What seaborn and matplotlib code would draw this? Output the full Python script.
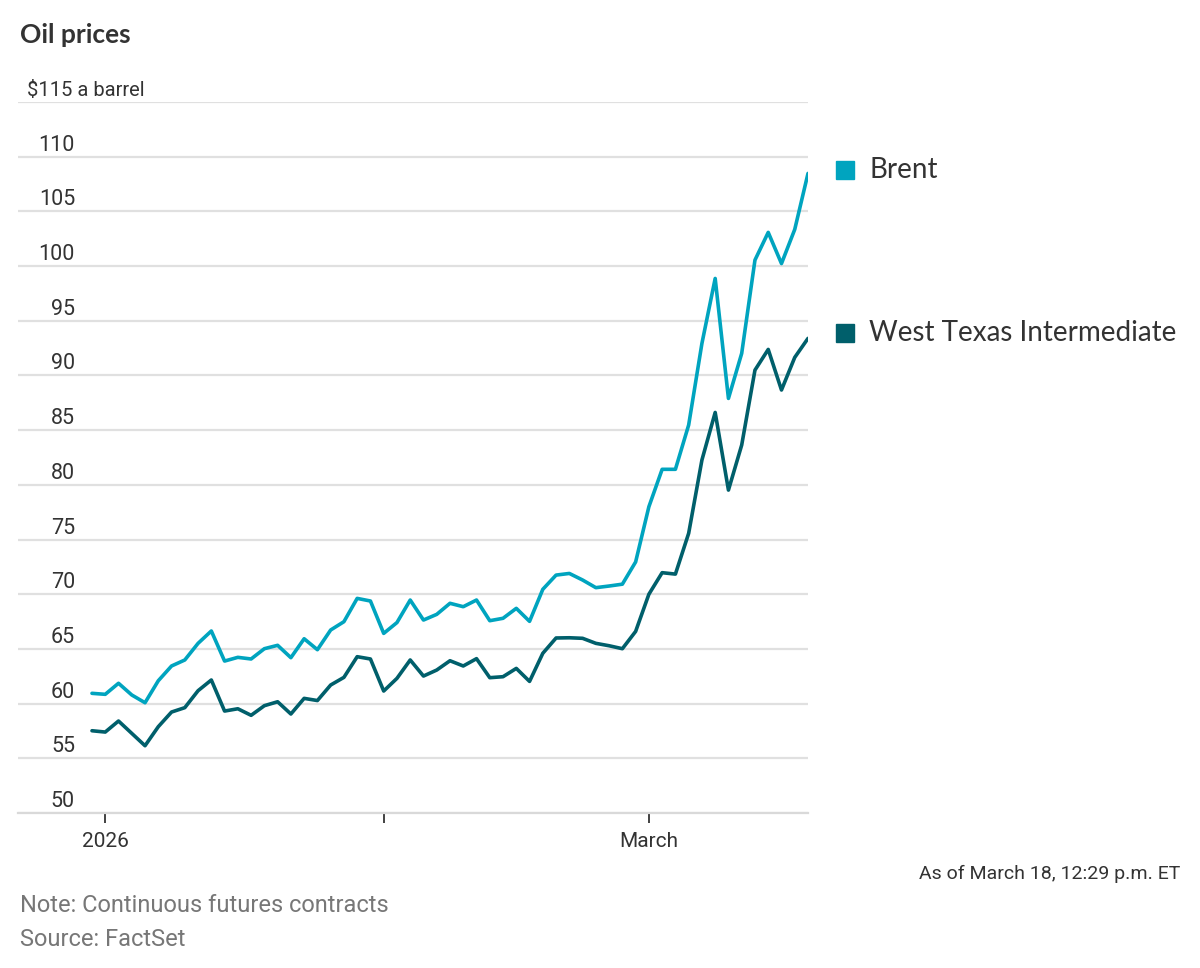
import pandas as pd
import matplotlib.pyplot as plt
import seaborn as sns
from matplotlib.patches import Rectangle
from matplotlib.transforms import blended_transform_factory

# Datos: precios de cierre por día de negociación (31 dic 2025 - 18 mar 2026)
dias = ["2025-12-31"] + [d.strftime("%Y-%m-%d") for d in pd.bdate_range("2026-01-02", "2026-03-18")]

brent = [60.94, 60.85, 61.86, 60.79, 60.08, 62.09, 63.44, 63.99, 65.51, 66.64,
         63.89, 64.23, 64.08, 65.02, 65.33, 64.20, 65.93, 64.93, 66.73, 67.49,
         69.62, 69.38, 66.42, 67.41, 69.47, 67.64, 68.16, 69.17, 68.86, 69.47,
         67.58, 67.80, 68.71, 67.52, 70.45, 71.75, 71.90, 71.30, 70.60, 70.75,
         70.92, 72.95, 78.00, 81.42, 81.42, 85.47, 92.93, 98.87, 87.90, 92.02,
         100.55, 103.08, 100.23, 103.35, 108.47]

wti = [57.52, 57.40, 58.41, 57.28, 56.15, 57.89, 59.23, 59.63, 61.18, 62.16,
       59.32, 59.53, 58.93, 59.81, 60.17, 59.05, 60.48, 60.28, 61.70, 62.40,
       64.29, 64.08, 61.15, 62.31, 63.99, 62.52, 63.07, 63.92, 63.44, 64.11,
       62.37, 62.46, 63.22, 62.03, 64.60, 66.00, 66.02, 65.97, 65.51, 65.29,
       65.02, 66.60, 70.00, 71.97, 71.84, 75.57, 82.27, 86.62, 79.52, 83.64,
       90.49, 92.38, 88.67, 91.65, 93.39]

series = ["Brent", "West Texas Intermediate"]
colores = {"Brent": "#00a4bf", "West Texas Intermediate": "#005f6b"}

etiquetas_y = list(range(50, 115, 5))
etiquetas_x = {"2026-01": "2026", "2026-02": "", "2026-03": "March"}

# Tabla larga para seaborn
df = pd.DataFrame({"dia": range(len(dias)), "fecha": dias,
                   "Brent": brent, "West Texas Intermediate": wti})
df_largo = df.melt(id_vars=["dia", "fecha"], value_vars=series,
                   var_name="serie", value_name="precio")

# Primer día de negociación de cada mes para las marcas del eje x
meses = df["fecha"].str[:7]
pos_ticks = [int(df.loc[meses == m, "dia"].iloc[0]) for m in etiquetas_x]

sns.set_style("white")
plt.rcParams["font.family"] = ["Roboto", "DejaVu Sans"]

fig = plt.figure(figsize=(12, 9.68), dpi=100)
W, H = 1200, 968
ax = fig.add_axes([18 / W, 1 - 813 / H, 790 / W, 711 / H])

sns.lineplot(data=df_largo, x="dia", y="precio", hue="serie", palette=colores,
             hue_order=series, linewidth=2.6, legend=False, ax=ax)

ax.set_xlim(-5.58, 54.0)
ax.set_ylim(50, 115)
ax.set_xlabel("")
ax.set_ylabel("")

# Rejilla horizontal
ax.set_yticks(etiquetas_y + [115])
ax.tick_params(axis="y", length=0, labelleft=False)
ax.grid(axis="y", color="#e0e0e0", linewidth=1.6)
ax.grid(axis="x", visible=False)
for s in ["top", "right", "left"]:
    ax.spines[s].set_visible(False)
ax.spines["bottom"].set_color("#d9d9d9")
ax.spines["bottom"].set_linewidth(1.6)

# Etiquetas del eje y dentro del gráfico, sobre cada línea
trans = blended_transform_factory(ax.transAxes, ax.transData)
for v in etiquetas_y:
    ax.text((75 - 18) / 790, v + 0.55, str(v), transform=trans, ha="right",
            va="baseline", fontsize=15.5, color="#333333")
ax.text((27 - 18) / 790, 115 + 0.55, "$115 a barrel", transform=trans, ha="left",
        va="baseline", fontsize=14.5, color="#333333")

# Eje x
ax.set_xticks(pos_ticks)
ax.set_xticklabels(list(etiquetas_x.values()))
ax.tick_params(axis="x", length=7, width=1.3, color="#333333", pad=7,
               labelsize=15, labelcolor="#333333", direction="out", bottom=True)

# Leyenda a la derecha
for nombre, yc in [("Brent", 170), ("West Texas Intermediate", 333)]:
    fig.patches.append(Rectangle((836 / W, 1 - (yc + 9) / H), 18 / W, 18 / H,
                                 transform=fig.transFigure, color=colores[nombre]))
    fig.text(869 / W, 1 - yc / H, nombre, ha="left", va="center",
             fontsize=20, color="#333333", family=["Lato", "DejaVu Sans"])

# Título y notas
fig.text(20 / W, 1 - 35 / H, "Oil prices", ha="left", va="center", fontsize=19,
         fontweight="bold", color="#333333", family=["Lato", "DejaVu Sans"])
fig.text(1180 / W, 1 - 874 / H, "As of March 18, 12:29 p.m. ET", ha="right",
         va="center", fontsize=14, color="#333333")
fig.text(20 / W, 1 - 906 / H, "Note: Continuous futures contracts", ha="left",
         va="center", fontsize=17, color="#777777")
fig.text(20 / W, 1 - 940 / H, "Source: FactSet", ha="left", va="center",
         fontsize=17, color="#777777")

plt.savefig("out.png", dpi=100)
